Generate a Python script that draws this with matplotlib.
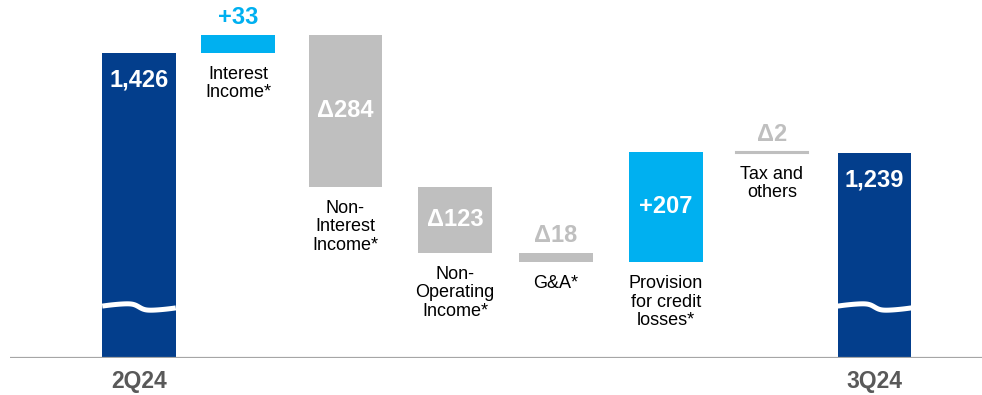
import matplotlib.pyplot as plt
import numpy as np

plt.rcParams['font.family'] = ['Liberation Sans', 'DejaVu Sans']

# bridge from 2Q24 to 3Q24
start_label = "2Q24"
end_label = "3Q24"
start_value = 1426
end_value = 1239
steps = ["Interest\nIncome*", "Non-\nInterest\nIncome*", "Non-\nOperating\nIncome*",
         "G&A*", "Provision\nfor credit\nlosses*", "Tax and\nothers"]
deltas = [33, -284, -123, -18, 207, -2]
delta_labels = ["+33", "\u0394284", "\u0394123", "\u039418", "+207", "\u03942"]

# slot positions of the eight columns (slightly uneven spacing)
xpos = [0, 0.942, 1.965, 3.008, 3.969, 5.016, 6.024, 7.0]

navy = "#033E8C"
cyan = "#00B0F0"
grey = "#BFBFBF"

y_floor = 856
px = 1 / 0.535  # data units per pixel
pt = 0.72       # points per pixel

fig = plt.figure(figsize=(9.82, 3.95), dpi=100)
ax = fig.add_axes([10 / 982, 37.5 / 395, 972 / 982, 357.5 / 395])
ax.set_xlim(-1.228, 8.023)
ax.set_ylim(y_floor, y_floor + 357.5 * px)
ax.axis('off')
w = 0.70

# totals
for x, val, lab in [(xpos[0], start_value, start_label), (xpos[-1], end_value, end_label)]:
    ax.bar(x, val - y_floor, bottom=y_floor, width=w, color=navy)
    ax.annotate(f"{val:,}", (x, val), xytext=(0, -27 * pt), textcoords='offset points',
                ha='center', va='center', color='white', fontsize=17, fontweight='bold')
    ax.annotate(lab, (x, y_floor), xytext=(0, -24 * pt), textcoords='offset points',
                ha='center', va='center', color='#595959', fontsize=16.5, fontweight='bold')
    # axis-break wave across the bar
    t = np.linspace(0, 1, 100)
    dy = 3.6 * np.tanh(12 * (t - 0.5)) * (1 - 0.75 * (2 * t - 1) ** 2)
    ax.plot(x - w / 2 + w * t, y_floor + (357.5 - 307 - dy) * px, color='white',
            lw=3.6, solid_capstyle='butt', zorder=3)

# steps
level = start_value
for x, d, name, dl in zip(xpos[1:-1], deltas, steps, delta_labels):
    lo, hi = min(level, level + d), max(level, level + d)
    c = cyan if d > 0 else grey
    # very thin steps get an outline so they stay visible
    edge = 1.5 if abs(d) < 5 else 0
    ax.bar(x, hi - lo, bottom=lo, width=w - 0.02 * (edge > 0), color=c,
           edgecolor=c, linewidth=edge)
    if abs(d) < 50:
        ax.annotate(dl, (x, hi), xytext=(0, 17 * pt), textcoords='offset points',
                    ha='center', va='center', color=c, fontsize=17, fontweight='bold')
    else:
        ax.text(x, (lo + hi) / 2, dl, ha='center', va='center', color='white',
                fontsize=17, fontweight='bold')
    ax.annotate(name, (x, lo), xytext=(0, -13 * pt), textcoords='offset points',
                ha='center', va='top', color='black', fontsize=13, linespacing=1.12)
    level += d

ax.axhline(y_floor, color='#A6A6A6', lw=1.6, zorder=4)

fig.savefig("out.png", dpi=100)
